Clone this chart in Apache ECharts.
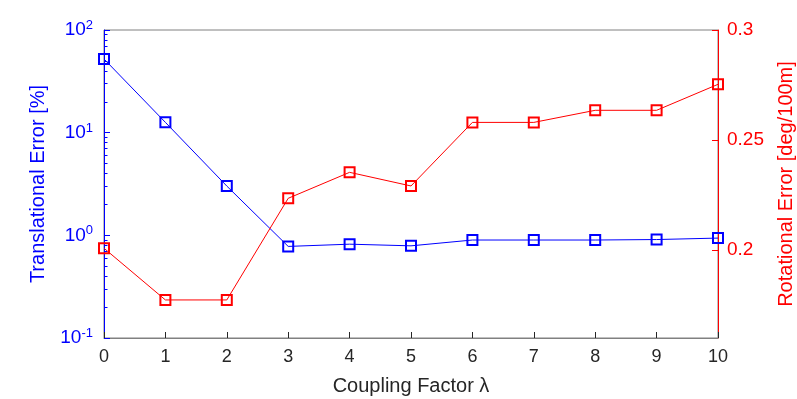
<!DOCTYPE html>
<html>
<head>
<meta charset="utf-8">
<script src="https://cdn.jsdelivr.net/npm/echarts@6/dist/echarts.min.js"></script>
<style>
html,body{margin:0;padding:0;background:#fff;}
#c{width:797px;height:399px;}
</style>
</head>
<body>
<div id="c"></div>
<script>
const couplingFactor = [0, 1, 2, 3, 4, 5, 6, 7, 8, 9, 10];
const translationalError = [52.2, 12.6, 3.02, 0.78, 0.82, 0.79, 0.90, 0.90, 0.90, 0.91, 0.94];
const rotationalError = [0.2008, 0.1773, 0.1773, 0.2235, 0.2353, 0.2291, 0.2580, 0.2580, 0.2635, 0.2635, 0.2753];
const rightTicks = [0.2, 0.25, 0.3];
const minorMultipliers = [2, 3, 4, 5, 6, 7, 8, 9];
const decades = [-1, 0, 1];
// minor tick positions in log10 space (for the overlay tick axis)
const leftMinorTicksLog = [];
decades.forEach(function (e) {
  minorMultipliers.forEach(function (m) { leftMinorTicksLog.push(e + Math.log10(m)); });
});

const FONT = "'Liberation Sans', Arial, Helvetica, sans-serif";
const BLUE = '#0000ff';
const RED = '#ff0000';
const DARK = '#262626';
const GRAY = '#808080';

const chart = echarts.init(document.getElementById('c'), null, {renderer: 'canvas'});
chart.setOption({
  animation: false,
  backgroundColor: '#ffffff',
  grid: {left: 104, right: 79, top: 30, bottom: 61, outerBoundsMode: 'none', containLabel: false,
    show: true, borderColor: GRAY, borderWidth: 1, backgroundColor: 'transparent'},
  xAxis: {
    type: 'value', min: 0, max: 10, interval: 1,
    name: 'Coupling Factor λ', nameLocation: 'middle', nameGap: 38,
    nameTextStyle: {fontFamily: FONT, fontSize: 20, color: DARK},
    axisLine: {show: true, onZero: false, lineStyle: {color: GRAY, width: 1}},
    axisTick: {show: true, inside: true, length: 6, lineStyle: {color: DARK}},
    axisLabel: {fontFamily: FONT, fontSize: 18, color: DARK, margin: 10},
    splitLine: {show: false}
  },
  yAxis: [
    {
      type: 'log', logBase: 10, min: 0.1, max: 100, interval: 1, position: 'left',
      name: 'Translational Error [%]', nameLocation: 'middle', nameGap: 56,
      nameTextStyle: {fontFamily: FONT, fontSize: 20, color: BLUE},
      axisLine: {show: true, lineStyle: {color: BLUE, width: 1}},
      axisTick: {show: true, inside: true, length: 6, lineStyle: {color: BLUE}},
      axisLabel: {
        margin: 11,
        formatter: function (v) {
          const e = Math.round(Math.log10(v));
          return '{b|10}{s|' + e + '}';
        },
        rich: {
          b: {fontFamily: FONT, fontSize: 19, color: BLUE, lineHeight: 22},
          s: {fontFamily: FONT, fontSize: 13, color: BLUE, verticalAlign: 'top', lineHeight: 14}
        }
      },
      splitLine: {show: false}
    },
    {
      type: 'value', min: 0.16, max: 0.3, position: 'right',
      name: 'Rotational Error [deg/100m]', nameLocation: 'middle', nameGap: 58,
      nameTextStyle: {fontFamily: FONT, fontSize: 20, color: RED},
      axisLine: {show: true, onZero: false, lineStyle: {color: RED, width: 1}},
      axisTick: {show: true, inside: true, length: 6, customValues: rightTicks, lineStyle: {color: RED}},
      axisLabel: {fontFamily: FONT, fontSize: 19, color: RED, margin: 9, customValues: rightTicks,
        formatter: function (v) { return String(+v.toFixed(2)); }},
      splitLine: {show: false}
    },
    {
      type: 'value', min: -1, max: 2, position: 'left', offset: 0,
      axisLine: {show: false, onZero: false},
      axisTick: {show: true, inside: true, length: 3.5, customValues: leftMinorTicksLog, lineStyle: {color: BLUE, width: 1}},
      axisLabel: {show: true, customValues: leftMinorTicksLog, formatter: function () { return ''; }},
      splitLine: {show: false}
    }
  ],
  series: [
    {
      type: 'line', yAxisIndex: 0, clip: false,
      data: couplingFactor.map((x, i) => [x, translationalError[i]]),
      symbol: 'rect', symbolSize: 10,
      lineStyle: {color: BLUE, width: 1},
      itemStyle: {color: 'transparent', borderColor: BLUE, borderWidth: 2},
      z: 3
    },
    {
      type: 'line', yAxisIndex: 1, clip: false,
      data: couplingFactor.map((x, i) => [x, rotationalError[i]]),
      symbol: 'rect', symbolSize: 10,
      lineStyle: {color: RED, width: 1},
      itemStyle: {color: 'transparent', borderColor: RED, borderWidth: 2},
      z: 3
    }
  ]
});
</script>
</body>
</html>
